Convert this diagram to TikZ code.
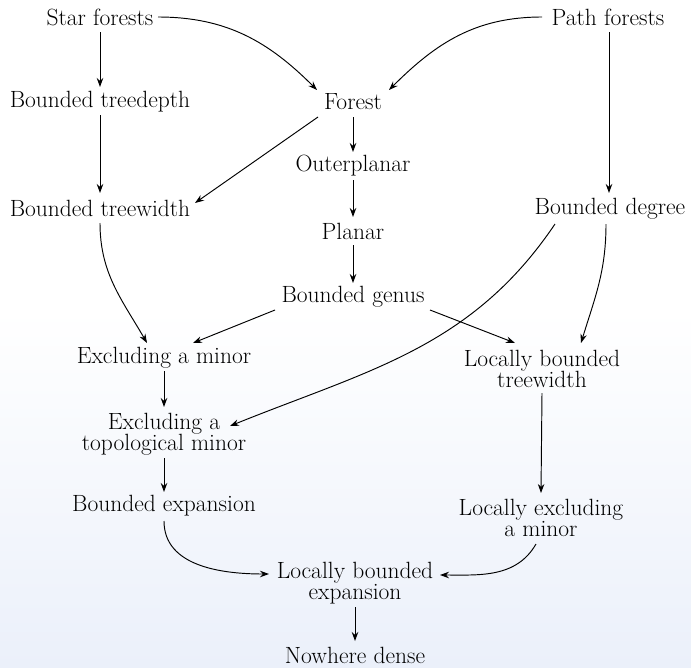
\documentclass[tikz,border=0pt]{standalone}
\usetikzlibrary{arrows.meta,calc}
\begin{document}
\begin{tikzpicture}[x=1pt,y=-1pt,
  every node/.style={font=\fontsize{23.5}{21.5}\selectfont, align=center, inner sep=0pt},
  cls/.style={},
  arr/.style={-{Stealth[length=9pt,width=6.5pt]}, line width=0.95pt}]
\useasboundingbox (0,0) rectangle (691,667);
\fill[white] (0,0) rectangle (691,667);
\shade[top color=white, bottom color={rgb,255:red,235;green,240;blue,250}] (0,310) rectangle (691,667);

\node[cls] (star) at (100,17) {Star forests};
\node[cls] (path) at (608,17) {Path forests};
\node[cls] (btd) at (100,102) {Bounded treedepth};
\node[cls] (forest) at (353,102) {Forest};
\node[cls] (outer) at (353,166) {Outerplanar};
\node[cls] (btw) at (100,208) {Bounded treewidth};
\node[cls] (planar) at (353,231) {Planar};
\node[cls] (bdeg) at (610,209) {Bounded degree};
\node[cls] (genus) at (353,297) {Bounded genus};
\node[cls] (exmin) at (164,358) {Excluding a minor};
\node[cls] (lbtw) at (542,369) {Locally bounded\\treewidth};
\node[cls] (extop) at (164,434) {Excluding a\\topological minor};
\node[cls] (bexp) at (164,506) {Bounded expansion};
\node[cls] (lexmin) at (541,518) {Locally excluding\\a minor};
\node[cls] (lbe) at (355,583) {Locally bounded\\expansion};
\node[cls] (nd) at (355,655) {Nowhere dense};

\draw[arr] ($(star)+(58,0)$) to[out=0,in=135] ($(forest)+(-36,-12)$);
\draw[arr] ($(path)+(-66,0)$) to[out=180,in=45] ($(forest)+(36,-12)$);
\draw[arr] ($(star)+(0,15)$) -- ($(btd)+(0,-15)$);
\draw[arr] ($(path)+(1,15)$) -- ($(bdeg)+(-1,-16)$);
\draw[arr] ($(btd)+(0,13)$) -- ($(btw)+(0,-15)$);
\draw[arr] ($(forest)+(-35,15)$) -- ($(btw)+(95,-5)$);
\draw[arr] ($(forest)+(0,15)$) -- ($(outer)+(0,-14)$);
\draw[arr] ($(outer)+(0,14)$) -- ($(planar)+(0,-14)$);
\draw[arr] ($(planar)+(0,14)$) -- ($(genus)+(0,-14)$);
\draw[arr] ($(btw)+(0,15)$) to[out=-90,in=120] ($(exmin)+(-17,-15)$);
\draw[arr] ($(genus)+(-78,13)$) -- ($(exmin)+(29,-15)$);
\draw[arr] ($(genus)+(77,13)$) -- ($(lbtw)+(-27,-26)$);
\draw[arr] ($(bdeg)+(-4,15)$) to[out=-90,in=73] ($(lbtw)+(39,-26)$);
\draw[arr] ($(bdeg)+(-55,15)$) to[out=-124,in=22] ($(extop)+(66,-8)$);
\draw[arr] ($(exmin)+(0,13)$) -- ($(extop)+(0,-27)$);
\draw[arr] ($(extop)+(0,24)$) -- ($(bexp)+(0,-14)$);
\draw[arr] ($(lbtw)+(0,24)$) -- ($(lexmin)+(0,-25)$);
\draw[arr] ($(bexp)+(0,15)$) to[out=-90,in=180] ($(lbe)+(-86,-9)$);
\draw[arr] ($(lexmin)+(-5,26)$) to[out=-120,in=0] ($(lbe)+(85,-8)$);
\draw[arr] ($(lbe)+(0,24)$) -- ($(nd)+(0,-14)$);
\end{tikzpicture}
\end{document}
